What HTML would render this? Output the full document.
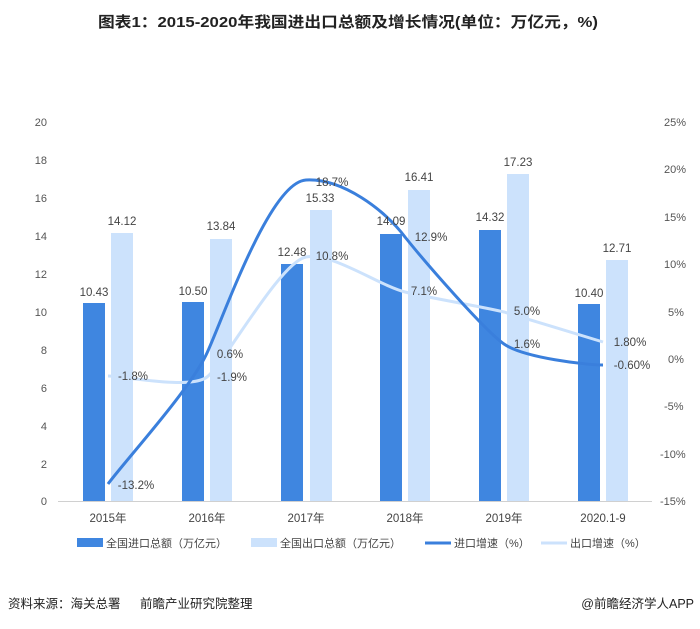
<!DOCTYPE html>
<html><head><meta charset="utf-8"><style>
body{margin:0;background:#fff;}
svg text{font-family:"Liberation Sans","Noto Sans CJK SC",sans-serif;}
</style></head><body>
<svg width="700" height="624" xmlns="http://www.w3.org/2000/svg">
<rect width="700" height="624" fill="#fff"/>
<text x="98" y="27" font-size="15" font-weight="bold" fill="#222" textLength="500" lengthAdjust="spacingAndGlyphs">图表1：2015-2020年我国进出口总额及增长情况(单位：万亿元，%)</text>
<g font-size="11" fill="#555" text-anchor="end">
<text x="47" y="126">20</text><text x="47" y="164">18</text><text x="47" y="202">16</text><text x="47" y="240">14</text><text x="47" y="278">12</text><text x="47" y="316">10</text><text x="47" y="354">8</text><text x="47" y="392">6</text><text x="47" y="430">4</text><text x="47" y="468">2</text><text x="47" y="505">0</text>
</g>
<g font-size="11" fill="#555" text-anchor="start">
<text x="664" y="126">25%</text><text x="664" y="173">20%</text><text x="664" y="221">15%</text><text x="664" y="268">10%</text><text x="668" y="316">5%</text><text x="668" y="363">0%</text><text x="664" y="410">-5%</text><text x="660" y="458">-10%</text><text x="660" y="505">-15%</text>
</g>
<line x1="58" y1="501.5" x2="652" y2="501.5" stroke="#d0d0d0" stroke-width="1"/>
<g fill="#3f86e0">
<rect x="83" y="303" width="22" height="198"/><rect x="182" y="302" width="22" height="199"/><rect x="281" y="264" width="22" height="237"/><rect x="380" y="234" width="22" height="267"/><rect x="479" y="230" width="22" height="271"/><rect x="578" y="304" width="22" height="197"/>
</g>
<g fill="#cce2fc">
<rect x="111" y="233" width="22" height="268"/><rect x="210" y="239" width="22" height="262"/><rect x="310" y="210" width="22" height="291"/><rect x="408" y="190" width="22" height="311"/><rect x="507" y="174" width="22" height="327"/><rect x="606" y="260" width="22" height="241"/>
</g>
<path d="M108,376 C124,376 190,390 207,377 C224,364 280,262 306,257 C332,252 380,286 405,292 C430,298 484,307 504,312 C524,318 587,337 603,342" fill="none" stroke="#cce2fc" stroke-width="3"/>
<path d="M108,484 C124,462 190,390 207,353 C224,316 270,182 306,180 C342,178 385,210 405,237 C425,262 484,330 504,344 C524,358 587,365 603,365" fill="none" stroke="#3a7fdc" stroke-width="3"/>
<g font-size="11.5" fill="#444" text-anchor="middle">
<text x="94" y="296">10.43</text><text x="122" y="225">14.12</text>
<text x="193" y="295">10.50</text><text x="221" y="230">13.84</text>
<text x="292" y="256">12.48</text><text x="320" y="202">15.33</text>
<text x="391" y="225">14.09</text><text x="419" y="181">16.41</text>
<text x="490" y="221">14.32</text><text x="518" y="166">17.23</text>
<text x="589" y="297">10.40</text><text x="617" y="252">12.71</text>
<text x="136" y="489">-13.2%</text><text x="230" y="358">0.6%</text><text x="332" y="186">18.7%</text><text x="431" y="241">12.9%</text><text x="527" y="348">1.6%</text><text x="632" y="369">-0.60%</text>
<text x="133" y="380">-1.8%</text><text x="232" y="381">-1.9%</text><text x="332" y="260">10.8%</text><text x="424" y="295">7.1%</text><text x="527" y="315">5.0%</text><text x="630" y="346">1.80%</text>
<text x="108" y="522">2015年</text><text x="207" y="522">2016年</text><text x="306" y="522">2017年</text><text x="405" y="522">2018年</text><text x="504" y="522">2019年</text><text x="603" y="522">2020.1-9</text>
</g>
<g font-size="11" fill="#444">
<rect x="77" y="538" width="26" height="9" fill="#3f86e0"/><text x="106" y="547">全国进口总额（万亿元）</text>
<rect x="251" y="538" width="26" height="9" fill="#cce2fc"/><text x="280" y="547">全国出口总额（万亿元）</text>
<line x1="425" y1="543" x2="451" y2="543" stroke="#3a7fdc" stroke-width="3"/><text x="454" y="547">进口增速（%）</text>
<line x1="541" y1="543" x2="567" y2="543" stroke="#cce2fc" stroke-width="3"/><text x="570" y="547">出口增速（%）</text>
</g>
<text x="8" y="608" font-size="12.5" fill="#222">资料来源：海关总署</text>
<text x="140" y="608" font-size="12.5" fill="#222">前瞻产业研究院整理</text>
<text x="694" y="608" font-size="12.5" fill="#222" text-anchor="end">@前瞻经济学人APP</text>
</svg>
</body></html>
